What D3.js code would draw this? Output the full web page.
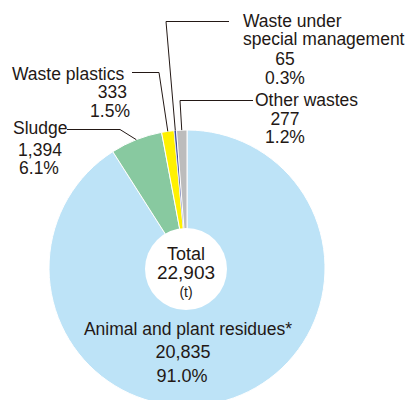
<!DOCTYPE html>
<html>
<head>
<meta charset="utf-8">
<script src="https://cdn.jsdelivr.net/npm/d3@7"></script>
<style>
  html, body { margin: 0; padding: 0; background: #fff; }
  svg { display: block; }
  text { font-family: "Liberation Sans", Arial, sans-serif; fill: #231815; }
</style>
</head>
<body>
<svg id="chart" width="407" height="400"></svg>
<script>
// ---- data ----
const categories = ["Animal and plant residues*", "Sludge", "Waste plastics", "Waste under special management", "Other wastes"];
const values = [20835, 1394, 333, 65, 277];
const valueLabels = ["20,835", "1,394", "333", "65", "277"];
const percentLabels = ["91.0%", "6.1%", "1.5%", "0.3%", "1.2%"];
const totalLabel = "22,903";
const unitLabel = "(t)";
const colors = ["#bde3f7", "#88c9a0", "#fff100", "#3c4a9e", "#bcbcbc"];

// ---- layout ----
const svg = d3.select("#chart");
const cx = 187, cy = 268, R = 138, r0 = 41;

const pie = d3.pie().sort(null).value(d => d.value).startAngle(0).endAngle(2 * Math.PI);
const data = categories.map((c, i) => ({ name: c, value: values[i], i }));
const arcs = pie(data);
const arc = d3.arc().innerRadius(0).outerRadius(R);

const g = svg.append("g").attr("transform", `translate(${cx},${cy})`);
g.selectAll("path.slice").data(arcs).enter().append("path")
  .attr("class", "slice")
  .attr("d", arc)
  .attr("fill", d => colors[d.data.i])
  .attr("stroke", "#fff")
  .attr("stroke-width", d => d.data.i === 3 ? 0.6 : 1);

// center hole
g.append("circle").attr("cx", -1).attr("cy", 1).attr("r", r0).attr("fill", "#fff");

// outer point at mid-angle of a slice
function edgePoint(a) {
  const m = (a.startAngle + a.endAngle) / 2;
  return [cx + R * Math.sin(m), cy - R * Math.cos(m)];
}

// ---- label layout (annotation positions) ----
const labelLayout = [
  { lines: [[categories[0], 188, 335, "middle", 17.5], [valueLabels[0], 183, 358, "middle", 18], [percentLabels[0], 182, 382, "middle", 18]], leader: null },
  { lines: [["Sludge", 13, 134, "start", 17.5], [valueLabels[1], 40, 156, "middle", 17.5], [percentLabels[1], 39, 174, "middle", 17.5]], leader: [[67, 129.5], [120, 129.5]] },
  { lines: [[categories[2], 12, 80, "start", 17.5], [valueLabels[2], 127, 98, "end", 17.5], [percentLabels[2], 130, 117, "end", 17.5]], leader: [[132, 72.5], [159, 72.5]] },
  { lines: [["Waste under", 243, 27, "start", 17.5], ["special management", 243, 45, "start", 17.5], [valueLabels[3], 285, 65, "middle", 17.5], [percentLabels[3], 285, 84, "middle", 17.5]], leader: [[229, 21.5], [166, 21.5]] },
  { lines: [[categories[4], 255, 106, "start", 17.5], [valueLabels[4], 285, 125, "middle", 17.5], [percentLabels[4], 285, 143, "middle", 17.5]], leader: [[253, 100.5], [180, 100.5]] }
];

const line = d3.line();
labelLayout.forEach((L, i) => {
  if (L.leader) {
    const pts = L.leader.concat([edgePoint(arcs[i])]);
    svg.append("path").attr("d", line(pts))
      .attr("fill", "none").attr("stroke", "#231815").attr("stroke-width", 1);
  }
  L.lines.forEach(([t, x, y, anchor, fs]) => {
    svg.append("text").attr("x", x).attr("y", y)
      .attr("text-anchor", anchor).attr("font-size", fs).text(t);
  });
});

// center total
svg.append("text").attr("x", 186).attr("y", 260).attr("text-anchor", "middle").attr("font-size", 18).text("Total");
svg.append("text").attr("x", 186).attr("y", 279).attr("text-anchor", "middle").attr("font-size", 19).text(totalLabel);
svg.append("text").attr("x", 186).attr("y", 297).attr("text-anchor", "middle").attr("font-size", 14).text(unitLabel);
</script>
</body>
</html>
